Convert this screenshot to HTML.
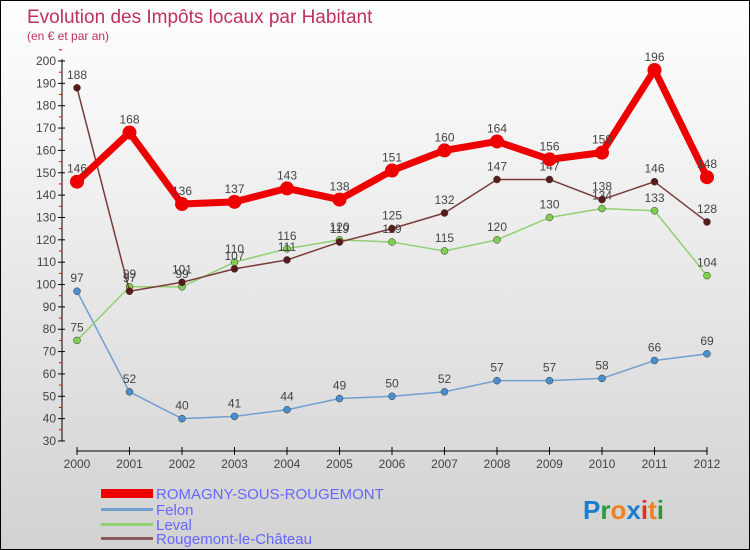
<!DOCTYPE html>
<html><head><meta charset="utf-8"><style>
body{margin:0}
#c{width:750px;height:550px;position:relative;background:linear-gradient(#fff,#d2d2d2);border:1px solid #000;box-sizing:border-box;overflow:hidden;font-family:"Liberation Sans",sans-serif}
</style></head><body>
<div id="c">
<svg width="750" height="550" id="s">
<text x="26" y="22" font-size="19" fill="#c0305a">Evolution des Impôts locaux par Habitant</text>
<text x="26" y="39" font-size="12" fill="#c0305a">(en € et par an)</text>
<g id="axes"></g><g id="series"></g>
<g>
<rect x="100" y="488" width="52" height="9" fill="#e00"/>
<text x="155" y="498" font-size="15" fill="#66f">ROMAGNY-SOUS-ROUGEMONT</text>
<rect x="100" y="507" width="52" height="3" fill="#6fa0cf"/>
<text x="155" y="514" font-size="15" fill="#66f">Felon</text>
<rect x="100" y="522" width="52" height="3" fill="#90d070"/>
<text x="155" y="529" font-size="15" fill="#66f">Leval</text>
<rect x="100" y="536" width="52" height="3" fill="#8a5a5a"/>
<text x="155" y="543" font-size="15" fill="#66f">Rougemont-le-Château</text>
</g>
<text x="582" y="518" font-size="26" font-weight="bold"><tspan fill="#1a7ed0">P</tspan><tspan fill="#2a9a40">r</tspan><tspan fill="#f08020">o</tspan><tspan fill="#1a7ed0">x</tspan><tspan fill="#e03020">i</tspan><tspan fill="#f08020">t</tspan><tspan fill="#2a9a40">i</tspan></text>
</svg>
</div>
<script>
const years=[2000,2001,2002,2003,2004,2005,2006,2007,2008,2009,2010,2011,2012];
const yTicks=[30,40,50,60,70,80,90,100,110,120,130,140,150,160,170,180,190,200];
const romagny=[146,168,136,137,143,138,151,160,164,156,159,196,148];
const felon=[97,52,40,41,44,49,50,52,57,57,58,66,69];
const leval=[75,99,99,110,116,120,119,115,120,130,134,133,104];
const rougemont=[188,97,101,107,111,119,125,132,147,147,138,146,128];
const NS="http://www.w3.org/2000/svg";
function X(i){return 76+i*(706-76)/12}
function Y(v){return 440-(v-30)*(380/170)}
function mk(t,a,p){const e=document.createElementNS(NS,t);for(const k in a)e.setAttribute(k,a[k]);p.appendChild(e);return e}
const ax=document.getElementById('axes');
const yl=mk('line',{x1:61,y1:58,x2:61,y2:440,stroke:'#000','stroke-width':1},ax);


yTicks.forEach(v=>{
 mk('line',{x1:57,y1:Y(v),x2:64,y2:Y(v),stroke:'#000'},ax);
 mk('line',{x1:58,y1:Y(v+5),x2:61,y2:Y(v+5),stroke:'#e00'},ax);
 const t=mk('text',{x:55,y:Y(v)+4,'font-size':12,fill:'#444','text-anchor':'end'},ax);t.textContent=v;
 
 
});
const xl=mk('line',{x1:76,y1:450,x2:706,y2:450,stroke:'#000','stroke-width':1},ax);


years.forEach((y,i)=>{
 mk('line',{x1:X(i),y1:446,x2:X(i),y2:454,stroke:'#000'},ax);
 const t=mk('text',{x:X(i),y:467,'font-size':12,fill:'#444','text-anchor':'middle'},ax);t.textContent=y;
 
 
});
const sg=document.getElementById('series');
function draw(vals,color,dot,w,r,name){
 const g=mk('g',{},sg);
 
 
 const pl=mk('polyline',{points:vals.map((v,i)=>X(i)+','+Y(v)).join(' '),fill:'none',stroke:color,'stroke-width':w,'stroke-linejoin':'round'},g);
 
 
 vals.forEach((v,i)=>{
  const c=mk('circle',{cx:X(i),cy:Y(v),r:r,fill:dot,stroke:dot==='#e00'?'none':'#333','stroke-width':0.5},g);
  
  
  const t=mk('text',{x:X(i),y:Y(v)-9,'font-size':12,fill:'#444','text-anchor':'middle'},g);t.textContent=v;
  
  
 });
}
draw(felon,'#6fa0cf','#4a90d0',1.5,3.5,'felon');
draw(leval,'#90d070','#80d050',1.5,3.5,'leval');
draw(rougemont,'#7a3a3a','#5a1a1a',1.5,3.5,'rougemont');
draw(romagny,'#e00','#e00',7,7,'romagny');
</script>
</body></html>
